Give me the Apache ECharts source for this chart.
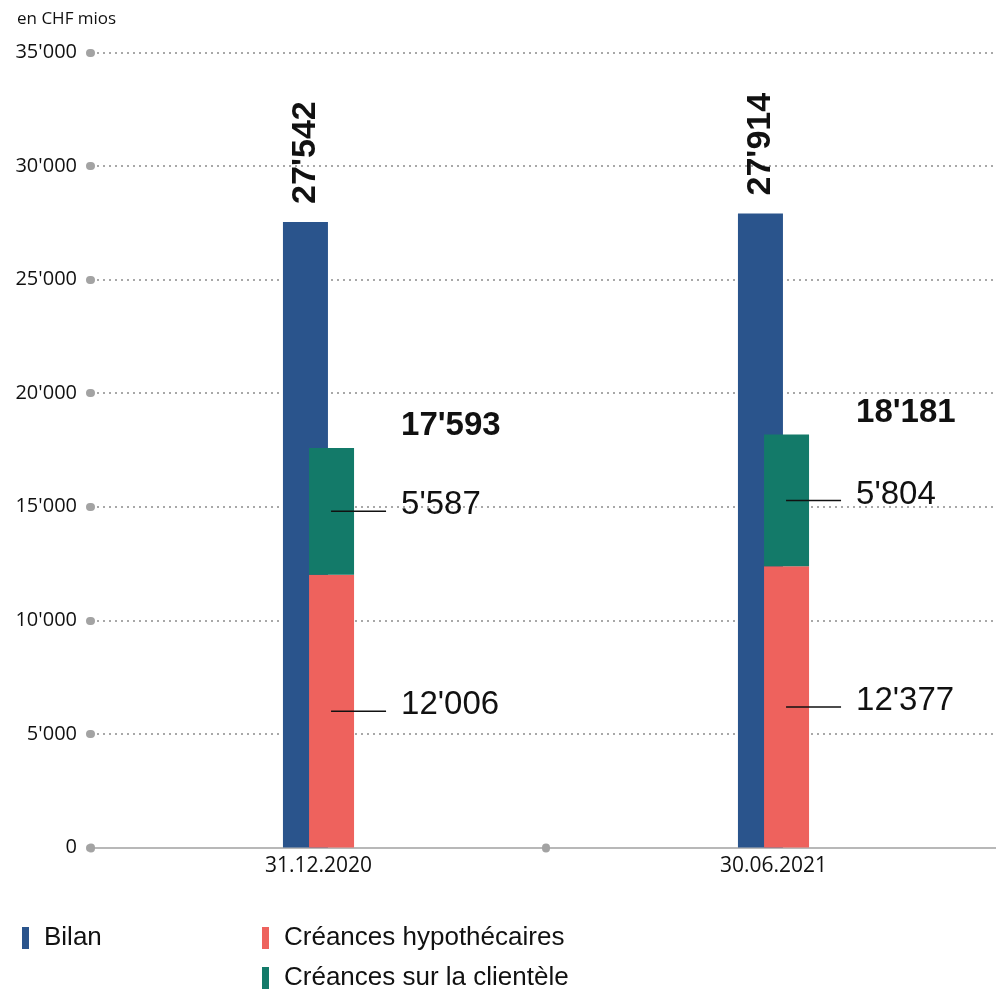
<!DOCTYPE html>
<html>
<head>
<meta charset="utf-8">
<script src="https://cdn.jsdelivr.net/npm/echarts@6/dist/echarts.min.js"></script>
<style>
  html, body { margin: 0; padding: 0; background: #fff; overflow: hidden; }
  /* plus large que la fenêtre : l'axe des x continue au-delà du bord droit */
  #chart { width: 1001px; height: 989px; }
</style>
</head>
<body>
<div id="chart"></div>
<script>
// données (en CHF mios)
const categories = ["31.12.2020", "30.06.2021"];
const bilan = [27542, 27914];
const hypothecaires = [12006, 12377];
const clientele = [5587, 5804];
const totals = hypothecaires.map((v, i) => v + clientele[i]);

const colors = { bilan: "#2a548c", hypo: "#ee625d", client: "#137a69" };
const sans = "'Liberation Sans', Arial, sans-serif";
const fmt = (v) => String(v).replace(/\B(?=(\d{3})+(?!\d))/g, "'");

// label avec trait de rappel
const leaderLabel = {
  show: true,
  position: [22, "50%"],
  align: "left",
  verticalAlign: "middle",
  formatter: (p) => "{l|}{v|" + fmt(p.value) + "}",
  rich: {
    l: { width: 55, height: 1.5, backgroundColor: "#111", verticalAlign: "middle" },
    v: {
      fontFamily: sans,
      fontSize: 33,
      color: "#111",
      verticalAlign: "middle",
      padding: [0, 0, 12, 15],
    },
  },
};

const legendBase = {
  icon: "rect",
  itemWidth: 7,
  itemHeight: 22,
  textStyle: { fontFamily: sans, fontSize: 26, color: "#111", padding: [0, 0, 0, 10] },
};

const chart = echarts.init(document.getElementById("chart"));
chart.setOption({
  backgroundColor: "#fff",
  animation: false,
  title: {
    text: "en CHF mios",
    left: 12,
    top: 6,
    textStyle: { fontFamily: "Open Sans", fontSize: 17, fontWeight: "normal", color: "#111" },
  },
  legend: [
    Object.assign({ data: ["Bilan"], left: 17, top: 920 }, legendBase),
    Object.assign({ data: ["Créances hypothécaires"], left: 257, top: 920 }, legendBase),
    Object.assign({ data: ["Créances sur la clientèle"], left: 257, top: 960 }, legendBase),
  ],
  grid: { left: 91, right: 0, top: 52.5, bottom: 141.5, containLabel: false },
  xAxis: {
    type: "category",
    data: categories,
    axisLine: { lineStyle: { color: "#b8b8b8", width: 2 } },
    axisTick: { show: true, length: 1, lineStyle: { color: "#a3a3a3", width: 8, cap: "round" } },
    axisLabel: { fontFamily: "Open Sans", fontSize: 21, color: "#111", margin: 8 },
  },
  yAxis: {
    type: "value",
    min: 0,
    max: 35000,
    interval: 5000,
    axisLine: { show: false },
    axisTick: { show: true, length: 1, lineStyle: { color: "#a3a3a3", width: 8, cap: "round" } },
    axisLabel: { fontFamily: "Open Sans", fontSize: 20, color: "#111", margin: 14, formatter: fmt },
    splitLine: { lineStyle: { color: "#a8a8a8", width: 2, type: [2, 4] } },
  },
  series: [
    {
      name: "Bilan",
      type: "bar",
      data: bilan,
      barWidth: 45,
      barGap: "-42%",
      itemStyle: { color: colors.bilan },
      label: {
        show: true,
        position: "top",
        distance: 18,
        rotate: 90,
        align: "left",
        verticalAlign: "middle",
        fontFamily: sans,
        fontSize: 34,
        fontWeight: "bold",
        color: "#111",
        formatter: (p) => fmt(p.value),
      },
    },
    {
      name: "Créances hypothécaires",
      type: "bar",
      stack: "c",
      data: hypothecaires,
      barWidth: 45,
      itemStyle: { color: colors.hypo },
      label: leaderLabel,
    },
    {
      name: "Créances sur la clientèle",
      type: "bar",
      stack: "c",
      data: clientele,
      barWidth: 45,
      itemStyle: { color: colors.client },
      label: leaderLabel,
    },
    {
      // porte seulement l'étiquette du total au sommet de la pile
      name: "total",
      type: "bar",
      stack: "c",
      data: categories.map(() => 0),
      barWidth: 45,
      itemStyle: { color: "transparent" },
      label: {
        show: true,
        position: [92, -22],
        align: "left",
        verticalAlign: "middle",
        fontFamily: sans,
        fontSize: 33,
        fontWeight: "bold",
        color: "#111",
        formatter: (p) => fmt(totals[p.dataIndex]),
      },
    },
  ],
});
window.addEventListener("resize", () => chart.resize());
</script>
</body>
</html>
